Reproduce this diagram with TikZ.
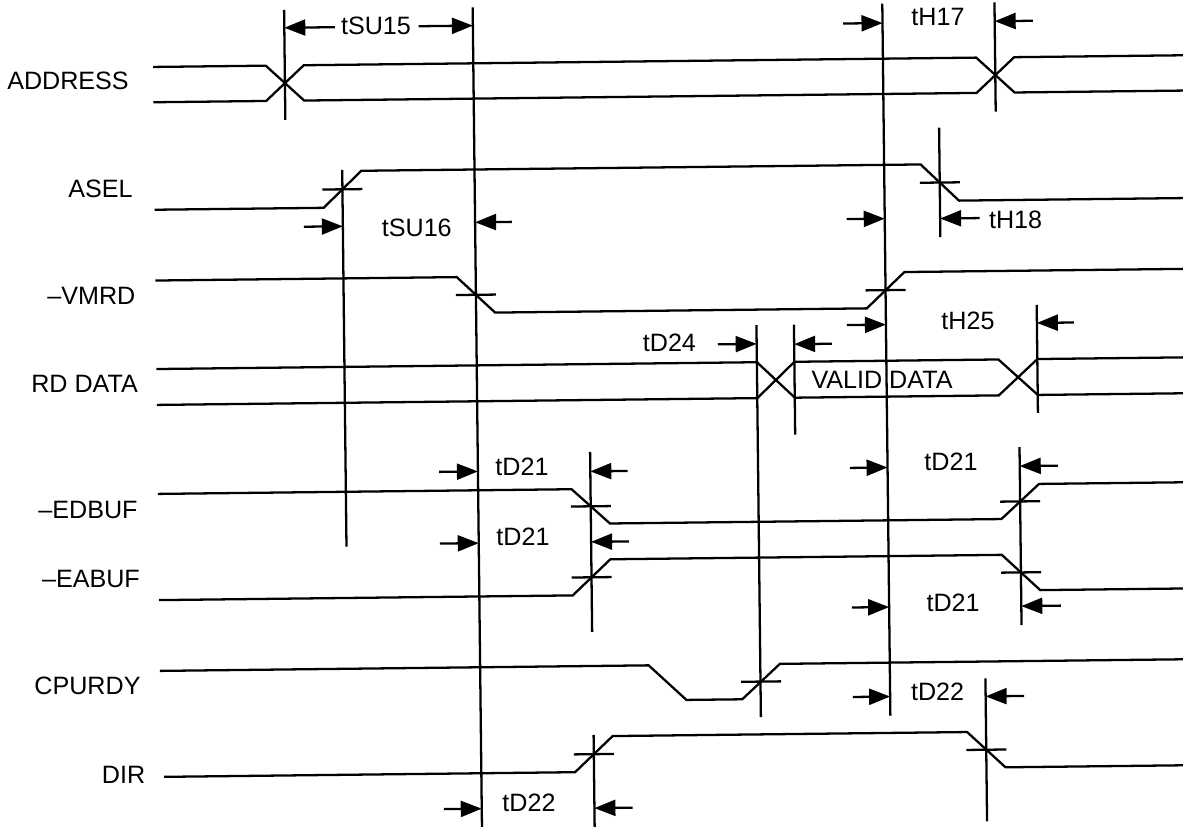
\documentclass[tikz,border=0pt]{standalone}
\usepackage{fontspec}
\setmainfont{Liberation Sans}
\usetikzlibrary{arrows.meta}
\begin{document}
\begin{tikzpicture}[x=0.02cm,y=-0.02cm,
  sig/.style={line width=1.3pt, line join=miter},
  vln/.style={line width=1.3pt},
  tck/.style={line width=1.3pt},
  arr/.style={line width=1.3pt,-{Triangle[length=0.42cm,width=0.32cm]}},
  lbl/.style={inner sep=0pt, font=\fontsize{14.3}{17}\selectfont},
  tlbl/.style={inner sep=0pt, font=\fontsize{14.3}{17}\selectfont}]
\fill[white] (0,0) rectangle (1183,827);
\useasboundingbox (0,0) rectangle (1183,827);
\begin{scope}[rotate around={0.65:(591,413)}]
% ---------- signal names
\node[lbl] (nADDR) at (71.8,75.1) {ADDRESS};
\node[lbl] (nASEL) at (103,183.5) {ASEL};
\node[lbl] (nVMRD) at (92.7,290.3) {–VMRD};
\node[lbl] (nRD)   at (84.9,378.3) {RD DATA};
\node[lbl] (nEDB)  at (86.9,504.3) {–EDBUF};
\node[lbl] (nEAB)  at (89.1,573.4) {–EABUF};
\node[lbl] (nCPU)  at (84.4,680.3) {CPURDY};
\node[lbl] (nDIR)  at (119.5,769.6) {DIR};
% ---------- waveforms
% ADDRESS
\draw[sig] (157,62) -- (269.7,62) -- (307.7,97.3) -- (980.2,97.3) -- (1018.2,62) -- (1200,62);
\draw[sig] (157,97.3) -- (269.7,97.3) -- (307.7,62) -- (980.2,62) -- (1018.2,97.3) -- (1200,97.3);
% ASEL
\draw[sig] (157,204.8) -- (326,204.8) -- (364,168.2) -- (923.4,168.2) -- (961.4,204.8) -- (1200,204.8);
% -VMRD
\draw[sig] (157,275.6) -- (458.3,275.6) -- (496.3,311.5) -- (868,311.5) -- (906,275.6) -- (1200,275.6);
% RD DATA
\draw[sig] (157,364.1) -- (757.5,364.1) -- (795,400) -- (999,400) -- (1038,364.1) -- (1200,364.1);
\draw[sig] (157,400) -- (757.5,400) -- (795,364.1) -- (999,364.1) -- (1038,400) -- (1200,400);
\node[tlbl] (nVALID) at (882.4,383) {VALID DATA};
% -EDBUF
\draw[sig] (157,489) -- (570.7,489) -- (608.7,523.7) -- (1000.2,523.7) -- (1038.2,489) -- (1200,489);
% -EABUF
\draw[sig] (157,595.2) -- (570.7,595.2) -- (608.7,559.5) -- (1000.2,559.5) -- (1038.2,595.2) -- (1200,595.2);
% CPURDY
\draw[sig] (157,666) -- (645.8,666) -- (683.2,701) -- (739,701) -- (777,666) -- (1200,666);
% DIR
\draw[sig] (160,772) -- (571,772) -- (609,736.3) -- (963.5,736.3) -- (1001.5,772) -- (1200,772);
% ---------- crossing ticks
\draw[tck] (325,186.5) -- (365,186.5);
\draw[tck] (922.4,186.5) -- (962.4,186.5);
\draw[tck] (457.3,293.5) -- (497.3,293.5);
\draw[tck] (867,293.5) -- (907,293.5);
\draw[tck] (569.7,506.3) -- (609.7,506.3);
\draw[tck] (999.2,506.3) -- (1039.2,506.3);
\draw[tck] (569.7,577.3) -- (609.7,577.3);
\draw[tck] (999.2,577.3) -- (1039.2,577.3);
\draw[tck] (738,683.5) -- (778,683.5);
\draw[tck] (570,754.2) -- (610,754.2);
\draw[tck] (962.5,754.2) -- (1002.5,754.2);
% ---------- vertical reference lines
\coordinate (v1a) at (288.7,6.5);   \coordinate (v1b) at (288.7,116.5);
\coordinate (v2a) at (345,167);     \coordinate (v2b) at (345,544);
\coordinate (v3a) at (477.3,6);     \coordinate (v3b) at (477.3,845);
\coordinate (v4a) at (589.7,452);   \coordinate (v4b) at (589.7,632);
\coordinate (v5a) at (590,735);     \coordinate (v5b) at (590,845);
\coordinate (v6a) at (757.5,327);   \coordinate (v6b) at (757.5,719);
\coordinate (v7a) at (795,327);     \coordinate (v7b) at (795,437);
\coordinate (v8a) at (887,7);       \coordinate (v8b) at (887,719);
\coordinate (v9a) at (942.4,131.6); \coordinate (v9b) at (942.4,241);
\coordinate (v10a) at (999.2,7);    \coordinate (v10b) at (999.2,116.3);
\coordinate (v11a) at (1038,310);   \coordinate (v11b) at (1038,418);
\coordinate (v12a) at (1019.2,452); \coordinate (v12b) at (1019.2,630);
\coordinate (v13a) at (982.5,683);  \coordinate (v13b) at (982.5,826);
\foreach \v in {1,...,13} {\draw[vln] (v\v a) -- (v\v b);}
% ---------- timing labels
\node[tlbl] (tSU15) at (380.4,23.5) {tSU15};
\node[tlbl] (tSU16) at (418.9,226) {tSU16};
\node[tlbl] (tH17) at (942.5,21) {tH17};
\node[tlbl] (tH18) at (1017.8,225) {tH18};
\node[tlbl] (tH25) at (969,325) {tH25};
\node[tlbl] (tD24) at (670.2,344) {tD24};
\node[tlbl] (tD21a) at (521.4,466.2) {tD21};
\node[tlbl] (tD21b) at (521.6,536.2) {tD21};
\node[tlbl] (tD21c) at (950.4,466.1) {tD21};
\node[tlbl] (tD21d) at (950.9,606.6) {tD21};
\node[tlbl] (tD22a) at (934.4,695.9) {tD22};
\node[tlbl] (tD22b) at (524.6,802.3) {tD22};
% ---------- dimension arrows (tail -> tip)
\coordinate (a1t) at (339.4,24.3);  \coordinate (a1h) at (288.7,24.3);
\coordinate (a2t) at (423,24.3);    \coordinate (a2h) at (477.3,24.3);
\coordinate (a3t) at (306,223.5);   \coordinate (a3h) at (345,223.5);
\coordinate (a4t) at (514,221);     \coordinate (a4h) at (477.3,221);
\coordinate (a5t) at (847.5,26.4);  \coordinate (a5h) at (887,26.4);
\coordinate (a6t) at (1037.4,25.8); \coordinate (a6h) at (999.2,25.8);
\coordinate (a7t) at (849,222);     \coordinate (a7h) at (887,222);
\coordinate (a8t) at (981.8,222.5); \coordinate (a8h) at (942.4,222.5);
\coordinate (a9t) at (848,328);     \coordinate (a9h) at (887,328);
\coordinate (a10t) at (1075,328);   \coordinate (a10h) at (1038,328);
\coordinate (a11t) at (718.6,345.8); \coordinate (a11h) at (757.5,345.8);
\coordinate (a12t) at (832.8,346.5); \coordinate (a12h) at (795,346.5);
\coordinate (a13t) at (438.6,470.2); \coordinate (a13h) at (477.3,470.2);
\coordinate (a14t) at (627,471.4);   \coordinate (a14h) at (589.7,471.4);
\coordinate (a15t) at (438.5,541.9); \coordinate (a15h) at (477.3,541.9);
\coordinate (a16t) at (627.5,541.9); \coordinate (a16h) at (589.7,541.9);
\coordinate (a17t) at (849.4,470.9); \coordinate (a17h) at (887,470.9);
\coordinate (a18t) at (1057.4,471);  \coordinate (a18h) at (1019.2,471);
\coordinate (a19t) at (849.8,610.5); \coordinate (a19h) at (887,610.5);
\coordinate (a20t) at (1058.8,611);  \coordinate (a20h) at (1019.2,611);
\coordinate (a21t) at (849.7,700);   \coordinate (a21h) at (887,700);
\coordinate (a22t) at (1021,700.9);  \coordinate (a22h) at (982.5,700.9);
\coordinate (a23t) at (439.5,807.5); \coordinate (a23h) at (477.3,807.5);
\coordinate (a24t) at (628.2,808.2); \coordinate (a24h) at (590,808.2);
\foreach \a in {1,...,24} {\draw[arr] (a\a t) -- (a\a h);}
\end{scope}
\end{tikzpicture}
\end{document}
